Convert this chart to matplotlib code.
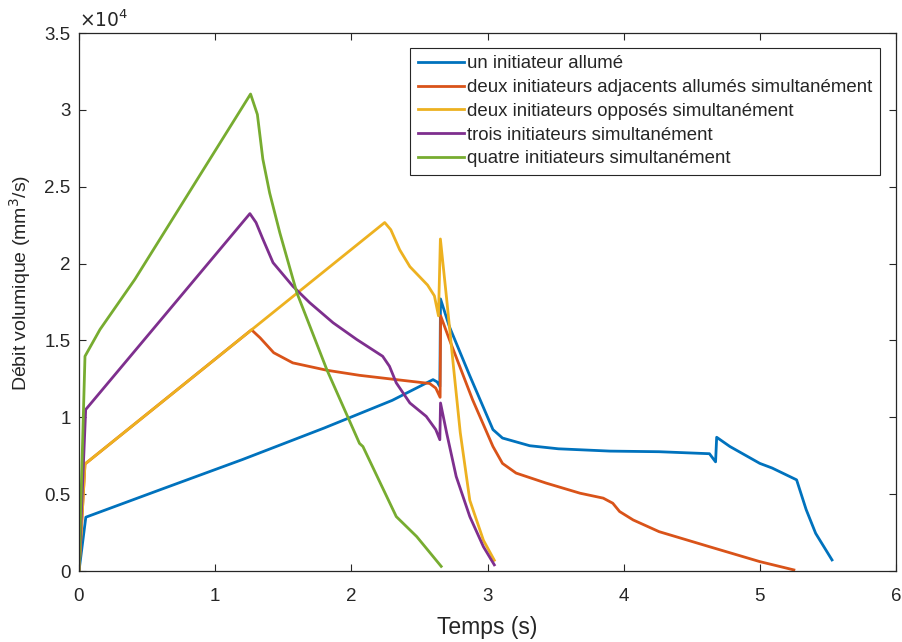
import matplotlib
matplotlib.use("Agg")
import matplotlib.pyplot as plt

plt.rcParams['font.family'] = ['Liberation Sans', 'DejaVu Sans']

# Data (time in s, flow in mm^3/s)
t_un = [0, 0.05, 0.6, 1.2, 1.8, 2.30, 2.60, 2.63, 2.65, 2.655, 2.72, 2.87, 3.04, 3.11, 3.31, 3.52, 3.90, 4.26, 4.63, 4.675, 4.683, 4.78, 5.0, 5.09, 5.27, 5.34, 5.41, 5.53]
q_un = [0, 3500, 5300, 7250, 9300, 11100, 12450, 12300, 12000, 17700, 15900, 12700, 9200, 8650, 8150, 7950, 7800, 7760, 7630, 7100, 8700, 8100, 7000, 6700, 5930, 4000, 2450, 720]

t_adj = [0, 0.044, 1.267, 1.33, 1.43, 1.57, 1.82, 2.06, 2.33, 2.575, 2.62, 2.652, 2.656, 2.72, 2.89, 3.04, 3.11, 3.21, 3.43, 3.68, 3.85, 3.92, 3.97, 4.07, 4.26, 4.63, 5.0, 5.25]
q_adj = [0, 6960, 15690, 15170, 14200, 13540, 13060, 12730, 12450, 12200, 11900, 11300, 16600, 15060, 11150, 8100, 7000, 6370, 5720, 5060, 4740, 4410, 3870, 3320, 2560, 1580, 610, 70]

t_opp = [0, 0.044, 2.245, 2.29, 2.355, 2.43, 2.56, 2.61, 2.64, 2.654, 2.70, 2.75, 2.80, 2.87, 2.97, 3.05]
q_opp = [0, 6960, 22670, 22200, 20900, 19800, 18600, 17900, 16600, 21600, 17700, 13300, 9000, 4600, 2000, 700]

t_trois = [0, 0.049, 1.255, 1.30, 1.35, 1.425, 1.57, 1.695, 1.866, 2.04, 2.23, 2.28, 2.33, 2.43, 2.55, 2.62, 2.65, 2.655, 2.70, 2.77, 2.87, 2.97, 3.05]
q_trois = [0, 10500, 23250, 22670, 21600, 20060, 18530, 17450, 16150, 15060, 13970, 13320, 12240, 10930, 10060, 9200, 8540, 10930, 8980, 6150, 3540, 1580, 400]

t_quatre = [0, 0.044, 0.154, 0.41, 1.26, 1.31, 1.35, 1.40, 1.475, 1.60, 1.82, 2.06, 2.085, 2.33, 2.48, 2.66]
q_quatre = [0, 13970, 15710, 18970, 31030, 29700, 26800, 24600, 22000, 18100, 13100, 8300, 8100, 3540, 2240, 300]

labels = ["un initiateur allumé",
          "deux initiateurs adjacents allumés simultanément",
          "deux initiateurs opposés simultanément",
          "trois initiateurs simultanément",
          "quatre initiateurs simultanément"]
colors = ["#0072BD", "#D95319", "#EDB120", "#7E2F8E", "#77AC30"]

series = [(t_un, q_un), (t_adj, q_adj), (t_opp, q_opp), (t_trois, q_trois), (t_quatre, q_quatre)]

fig = plt.figure(figsize=(9.02, 6.42), dpi=100)
W, H = 902, 642
L, R, T, B = 79, 896, 33, 571
ax = fig.add_axes([L / W, 1 - B / H, (R - L) / W, (B - T) / H])

for (t, q), lab, c in zip(series, labels, colors):
    ax.plot(t, [v / 1e4 for v in q], color=c, lw=2.0, label=lab)

ax.set_xlim(0, 6)
ax.set_ylim(0, 3.5)
ax.set_xticks([0, 1, 2, 3, 4, 5, 6])
ax.set_yticks([0, 0.5, 1, 1.5, 2, 2.5, 3, 3.5])
ax.set_yticklabels(["0", "0.5", "1", "1.5", "2", "2.5", "3", "3.5"])
ax.tick_params(direction='in', top=True, right=True, length=5, width=0.8,
               labelsize=13.5, colors='#262626', pad=6)
ax.tick_params(axis='x', pad=12)
for s in ax.spines.values():
    s.set_color('#262626')
    s.set_linewidth(0.9)

ax.set_xlabel("Temps (s)", fontsize=16.5, color='#262626', labelpad=8)
ax.set_ylabel("Débit volumique (mm$^3$/s)", fontsize=14, color='#262626')
ax.yaxis.set_label_coords(-0.056, 0.535)
ax.text(0.0, 1.004, r"$\times 10^4$", transform=ax.transAxes, fontsize=13.5,
        color='#262626', ha='left', va='bottom')

leg = ax.legend(loc='upper right', bbox_to_anchor=((880 - L) / (R - L), (B - 48) / (B - T)),
                fontsize=13.4, frameon=True, fancybox=False, framealpha=1,
                edgecolor='#262626', handlelength=2.5, handletextpad=0.16,
                labelspacing=0.36, borderpad=0.4, borderaxespad=0)
leg.get_frame().set_linewidth(0.8)
for txt in leg.get_texts():
    txt.set_color('#262626')

fig.savefig("out.png", dpi=100)
